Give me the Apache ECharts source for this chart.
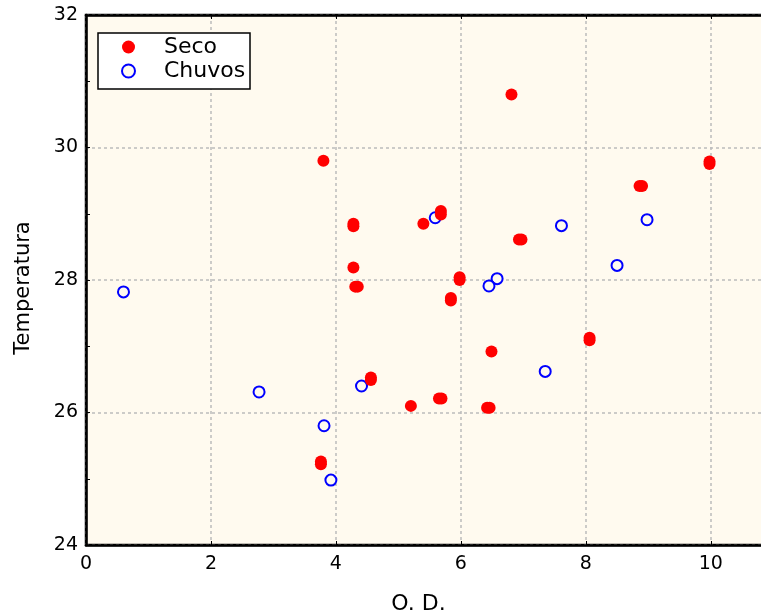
<!DOCTYPE html>
<html>
<head>
<meta charset="utf-8">
<script src="https://cdn.jsdelivr.net/npm/echarts@6/dist/echarts.min.js"></script>
<style>
  html, body { margin: 0; padding: 0; background: #fff; }
  #chart { width: 761px; height: 615px; }
</style>
</head>
<body>
<div id="chart"></div>
<script>
// Seco (dry season) points
const secoOD = [3.8, 4.28, 4.28, 4.28, 4.31, 4.35, 6.81, 9.98, 9.98, 8.86, 8.90, 5.40, 5.68, 5.68, 6.93, 6.97, 5.98, 5.98, 5.84, 5.84, 8.06, 8.06, 6.49, 5.20, 5.65, 5.69, 6.42, 6.46, 4.56, 4.56, 3.76, 3.76]
const secoTemp = [29.8, 28.81, 28.85, 28.19, 27.9, 27.9, 30.8, 29.75, 29.79, 29.42, 29.42, 28.85, 28.99, 29.04, 28.61, 28.61, 28.0, 28.04, 27.69, 27.73, 27.09, 27.13, 26.92, 26.10, 26.21, 26.21, 26.07, 26.07, 26.49, 26.53, 25.22, 25.26]

// Chuvoso (rainy season) points
const chuvOD = [0.60, 5.59, 7.61, 8.98, 8.50, 6.58, 6.45, 7.35, 2.77, 4.41, 3.81, 3.92]
const chuvTemp = [27.82, 28.94, 28.82, 28.91, 28.22, 28.02, 27.91, 26.62, 26.31, 26.40, 25.80, 24.98]

const xTicks = [0, 2, 4, 6, 8, 10]
const yTicks = [24, 26, 28, 30, 32]

const toPairs = (xs, ys) => xs.map((x, i) => [x, ys[i]])

const fontFamily = 'DejaVu Sans'
const gridLine = { show: true, lineStyle: { color: '#bcbcbc', type: [3, 3], width: 1.5 } }

const chart = echarts.init(document.getElementById('chart'))

chart.setOption({
  animation: false,
  textStyle: { fontFamily: fontFamily },
  grid: {
    left: 86,
    right: -6,
    top: 15,
    bottom: 70,
    outerBoundsMode: 'none',
    containLabel: false,
    show: true,
    backgroundColor: '#fffaef',
    borderColor: '#000',
    borderWidth: 2.5
  },
  legend: {
    orient: 'vertical',
    left: 98,
    top: 33,
    data: ['Seco', 'Chuvoso'],
    backgroundColor: '#fff',
    borderColor: '#000',
    borderWidth: 1.5,
    borderRadius: 0,
    padding: [2, 0, 6, 23],
    itemGap: 0,
    itemWidth: 13,
    itemHeight: 13,
    textStyle: {
      fontFamily: fontFamily,
      fontSize: 22,
      color: '#000',
      lineHeight: 24,
      padding: [0, 0, 0, 24],
      width: 86,
      overflow: 'truncate',
      ellipsis: ''
    }
  },
  xAxis: [
    {
      type: 'value',
      min: 0,
      max: 10.9,
      interval: 2,
      name: 'O. D.',
      nameLocation: 'middle',
      nameGap: 48,
      nameTextStyle: { fontFamily: fontFamily, fontSize: 22, color: '#000', padding: [0, 16, 0, 0] },
      axisLine: { show: true, onZero: false, lineStyle: { color: '#000', width: 2.5 } },
      axisTick: { show: true, inside: true, length: 4, lineStyle: { color: '#000' } },
      axisLabel: {
        fontFamily: fontFamily,
        fontSize: 19,
        color: '#000',
        margin: 10,
        showMaxLabel: false,
        formatter: v => (xTicks.includes(v) ? String(v) : '')
      },
      splitLine: gridLine
    },
    {
      type: 'value',
      position: 'top',
      min: 0,
      max: 10.9,
      interval: 2,
      axisLine: { show: true, onZero: false, lineStyle: { color: '#000', width: 2.5 } },
      axisTick: { show: true, inside: true, length: 4, lineStyle: { color: '#000' } },
      axisLabel: { show: false },
      splitLine: { show: false }
    }
  ],
  yAxis: {
    type: 'value',
    min: 24,
    max: 32,
    interval: 2,
    name: 'Temperatura',
    nameLocation: 'middle',
    nameGap: 52,
    nameTextStyle: { fontFamily: fontFamily, fontSize: 21, color: '#000', padding: [0, 16, 0, 0] },
    axisLine: { show: true, onZero: false, lineStyle: { color: '#000', width: 2.5 } },
    axisTick: { show: true, inside: true, length: 4, lineStyle: { color: '#000' } },
    minorTick: { show: true, splitNumber: 2, length: 4, lineStyle: { color: '#000' } },
    axisLabel: {
      fontFamily: fontFamily,
      fontSize: 19,
      color: '#000',
      margin: 8,
      formatter: v => (yTicks.includes(v) ? String(v) : '')
    },
    splitLine: gridLine
  },
  series: [
    {
      name: 'Chuvoso',
      type: 'scatter',
      symbol: 'circle',
      symbolSize: 11,
      itemStyle: { color: '#fffaef', borderColor: '#0000ff', borderWidth: 2, opacity: 1 },
      data: toPairs(chuvOD, chuvTemp)
    },
    {
      name: 'Seco',
      type: 'scatter',
      symbol: 'circle',
      symbolSize: 12,
      itemStyle: { color: '#ff0000', opacity: 1 },
      data: toPairs(secoOD, secoTemp)
    }
  ]
})
</script>
</body>
</html>
